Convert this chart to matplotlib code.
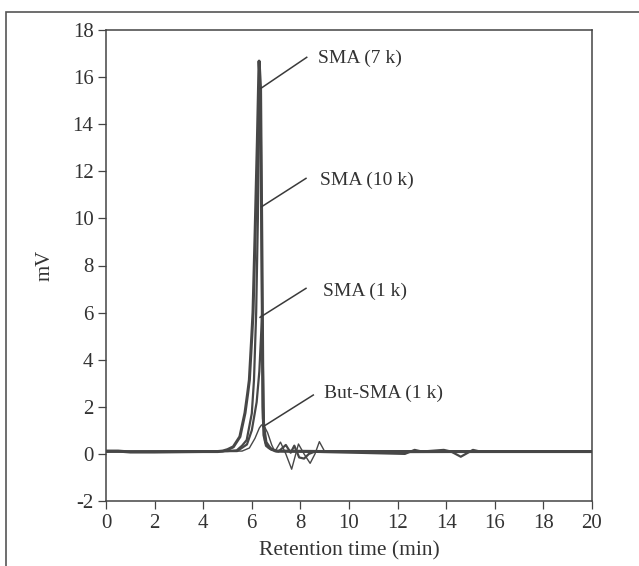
import matplotlib
matplotlib.use('Agg')
import matplotlib.pyplot as plt
from matplotlib.patches import Rectangle

plt.rcParams['font.family'] = ['Liberation Serif', 'DejaVu Serif']
plt.rcParams['axes.unicode_minus'] = False

# Chromatogram traces (time in min, signal in mV)
t_7k = [0, 0.5, 1, 2, 3, 4, 4.6, 4.8, 5.0, 5.24, 5.51, 5.72, 5.83, 5.9, 6.0, 6.05,
        6.13, 6.23, 6.3, 6.36, 6.42, 6.46, 6.5, 6.6, 6.8, 7.0, 9, 12, 15, 18, 20]
v_7k = [0.12, 0.12, 0.08, 0.08, 0.09, 0.1, 0.1, 0.12, 0.18, 0.3, 0.73, 1.74, 2.57, 3.14, 5.0, 6.0,
        9.1, 13.3, 16.68, 15.5, 8.0, 2.0, 0.8, 0.35, 0.2, 0.12, 0.1, 0.1, 0.1, 0.1, 0.1]

t_10k = [0, 4, 5.0, 5.38, 5.6, 5.79, 6.0, 6.09, 6.18, 6.25, 6.31, 6.37, 6.42, 6.46,
         6.55, 6.7, 7.0, 9, 12.3, 12.7, 13.0, 13.9, 14.2, 14.6, 15.1, 15.4, 20]
v_10k = [0.1, 0.1, 0.12, 0.15, 0.35, 0.59, 1.72, 3.14, 6.0, 10.0, 15.8, 14.0, 7.0, 1.5,
         0.5, 0.25, 0.12, 0.08, 0.0, 0.17, 0.1, 0.17, 0.1, -0.12, 0.17, 0.1, 0.1]

t_1k = [0, 5.4, 5.8, 6.0, 6.2, 6.31, 6.38, 6.42, 6.46, 6.5, 6.6, 6.8, 7.1, 7.4, 7.6,
        7.75, 7.95, 8.15, 8.35, 8.6, 12, 20]
v_1k = [0.1, 0.12, 0.4, 1.0, 2.2, 3.5, 5.0, 5.9, 3.5, 1.2, 0.5, 0.2, 0.1, 0.38, 0.05,
        0.35, -0.15, -0.2, 0.0, 0.1, 0.08, 0.1]

t_but = [0, 5.6, 5.9, 6.13, 6.31, 6.4, 6.5, 6.65, 6.82, 6.95, 7.18, 7.4, 7.64, 7.92,
         8.15, 8.4, 8.6, 8.78, 9.0, 12, 20]
v_but = [0.1, 0.12, 0.25, 0.66, 1.1, 1.23, 1.2, 0.9, 0.38, 0.1, 0.5, 0.0, -0.65, 0.42,
         0.0, -0.4, 0.0, 0.52, 0.1, 0.1, 0.1]

labels = ['SMA (7 k)', 'SMA (10 k)', 'SMA (1 k)', 'But-SMA (1 k)']
label_xy = [(8.72, 16.81), (8.81, 11.63), (8.94, 6.89), (8.97, 2.57)]
leader_start = [(6.37, 15.52), (6.41, 10.5), (6.34, 5.8), (6.47, 1.16)]
leader_end = [(8.26, 16.84), (8.23, 11.7), (8.23, 7.03), (8.53, 2.5)]

xticks = list(range(0, 21, 2))
yticks = list(range(-2, 19, 2))

col = '#474747'
fig = plt.figure(figsize=(6.39, 5.66), dpi=100)
fig.patches.append(Rectangle((6 / 639, -0.05), 1.0, 1.05 - 12 / 566,
                             transform=fig.transFigure, fill=False,
                             edgecolor='#555555', linewidth=1.2))
ax = fig.add_axes([106 / 639, 1 - 501 / 566, 486 / 639, 471 / 566])

ax.plot(t_7k, v_7k, color=col, lw=2.2)
ax.plot(t_10k, v_10k, color=col, lw=1.6)
ax.plot(t_1k, v_1k, color=col, lw=1.6)
ax.plot(t_but, v_but, color=col, lw=1.0)

for lab, (lx, ly), (sx, sy), (ex, ey) in zip(labels, label_xy, leader_start, leader_end):
    ax.plot([sx, ex], [sy, ey], color='#3a3a3a', lw=1.1)
    ax.text(lx, ly, lab, fontsize=14, color='#333333', va='center', ha='left')

ax.set_xlim(0, 20)
ax.set_ylim(-2, 18)
ax.set_xticks(xticks)
ax.set_yticks(yticks)
ax.tick_params(direction='out', length=6, width=0.9, colors='#444444',
               labelsize=15, labelcolor='#333333', pad=3)
for s in ax.spines.values():
    s.set_color('#444444')
    s.set_linewidth(1.1)
ax.set_xlabel('Retention time (min)', fontsize=15.5, color='#333333', labelpad=6)
ax.set_ylabel('mV', fontsize=15, color='#333333', labelpad=13)

fig.savefig('out.png', dpi=100)
